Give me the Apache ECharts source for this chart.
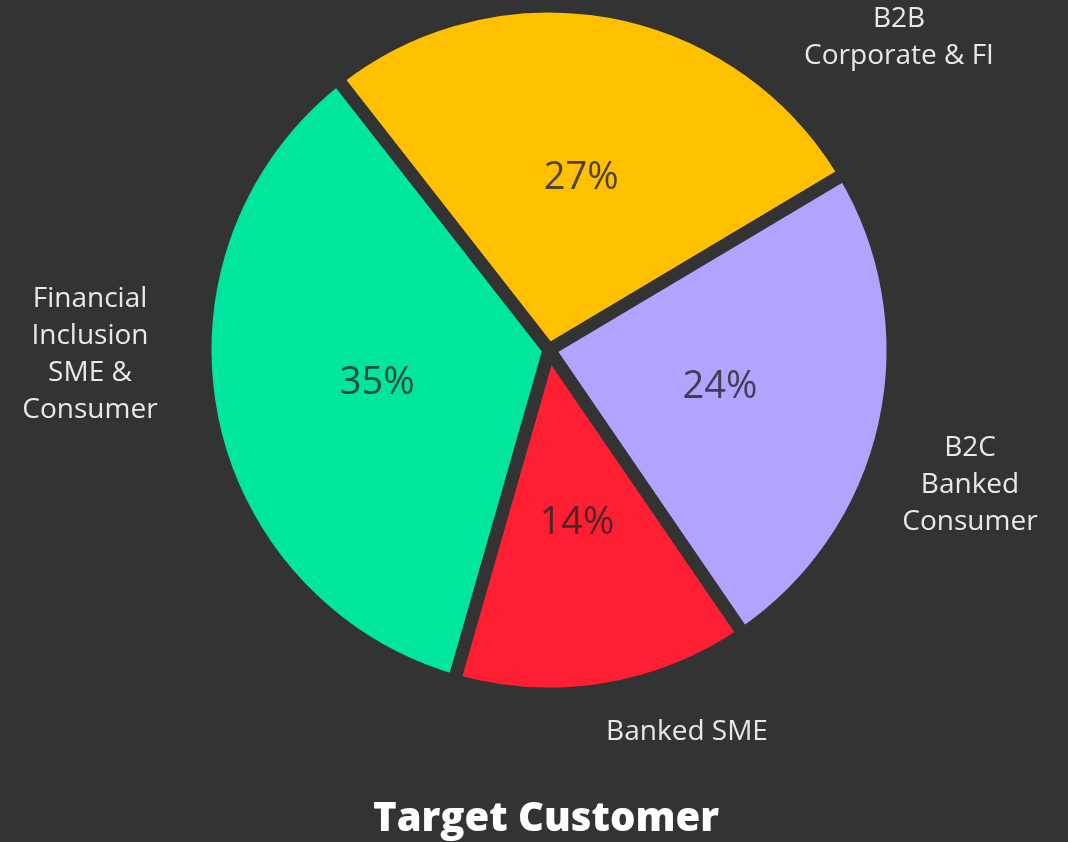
<!DOCTYPE html>
<html>
<head>
<meta charset="utf-8">
<script src="https://cdn.jsdelivr.net/npm/echarts@6/dist/echarts.min.js"></script>
<style>
  html, body { margin: 0; padding: 0; background: #333333; }
  #chart { width: 1068px; height: 842px; }
</style>
</head>
<body>
<div id="chart"></div>
<script>
// Customer segments, in clockwise order from the top-left
const segmentNames = [
  'B2B\nCorporate & FI',
  'B2C\nBanked\nConsumer',
  'Banked SME',
  'Financial\nInclusion\nSME &\nConsumer'
];
const segmentShares = [27, 24, 14, 35];
const segmentColors = ['#FFC000', '#B1A3FF', '#FF1F33', '#00E69E'];

const BG = '#333333';
const CENTER = ['549', '350'];
const RADIUS = 344;

// Where each segment name sits on the canvas
const nameAnchors = [
  { x: 899, y: 38 },
  { x: 970, y: 485 },
  { x: 687, y: 732 },
  { x: 90, y: 355 }
];

const pieData = segmentNames.map((n, i) => ({
  name: n,
  value: segmentShares[i],
  itemStyle: { color: segmentColors[i] }
}));

const chart = echarts.init(document.getElementById('chart'), null, { renderer: 'canvas' });
chart.setOption({
  backgroundColor: BG,
  animation: false,
  title: {
    text: 'Target Customer',
    left: 368,
    top: 795,
    textStyle: {
      color: '#ffffff',
      fontFamily: 'Open Sans',
      fontWeight: 800,
      fontSize: 40
    }
  },
  series: [
    {
      // slices with the percentage inside each
      type: 'pie',
      center: CENTER,
      radius: RADIUS,
      startAngle: 128,
      clockwise: true,
      silent: true,
      itemStyle: { borderColor: BG, borderWidth: 13, borderJoin: 'round' },
      label: {
        show: true,
        position: 'inside',
        formatter: '{c}%',
        color: 'rgba(38,38,38,0.8)',
        fontFamily: 'Open Sans',
        fontSize: 38,
        fontWeight: 400
      },
      labelLine: { show: false },
      data: pieData
    },
    {
      // segment names placed around the pie
      type: 'pie',
      center: CENTER,
      radius: RADIUS,
      startAngle: 128,
      clockwise: true,
      silent: true,
      itemStyle: { color: 'rgba(0,0,0,0)', borderWidth: 0 },
      label: {
        show: true,
        position: 'outside',
        alignTo: 'none',
        overflow: 'none',
        width: 400,
        formatter: '{b}',
        color: '#e8e8e8',
        fontFamily: 'Open Sans',
        fontSize: 28,
        lineHeight: 37,
        align: 'center'
      },
      labelLine: { show: false },
      labelLayout: function (p) {
        const a = nameAnchors[p.dataIndex];
        return { x: a.x, y: a.y, align: 'center', verticalAlign: 'middle', hideOverlap: false };
      },
      data: pieData.map(d => ({ name: d.name, value: d.value }))
    }
  ]
});
</script>
</body>
</html>
